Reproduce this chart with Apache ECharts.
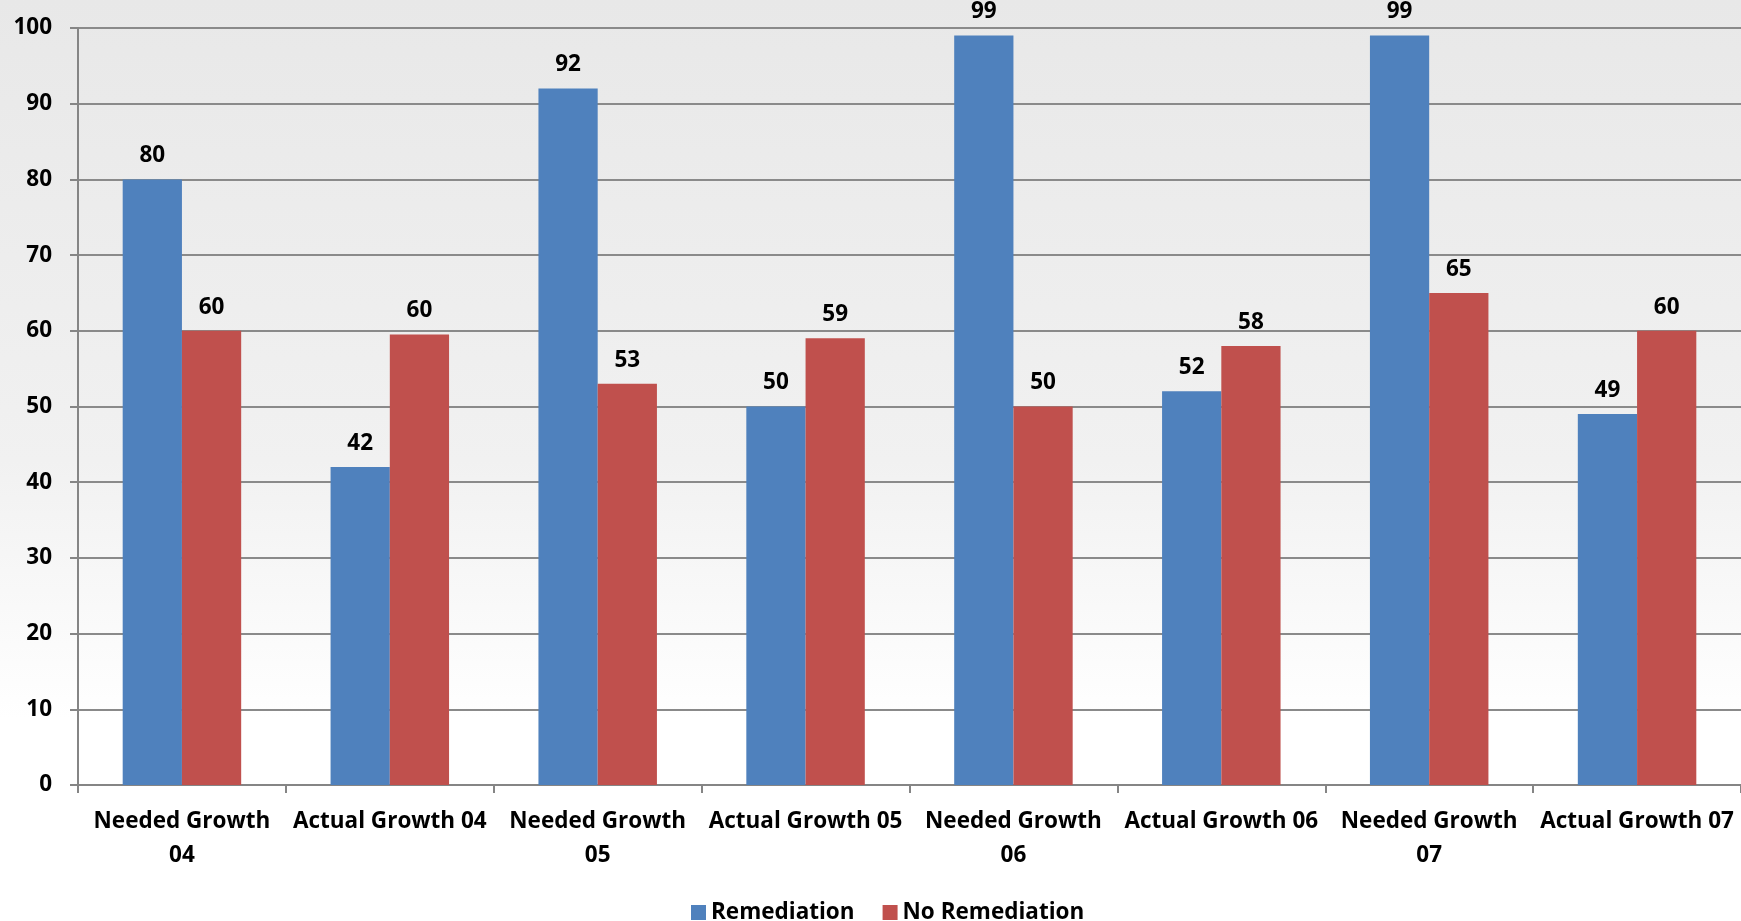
<!DOCTYPE html>
<html>
<head>
<meta charset="utf-8">
<script src="https://cdn.jsdelivr.net/npm/echarts@6/dist/echarts.min.js"></script>
<style>
html,body{margin:0;padding:0;background:#fff;}
#chart{width:1741px;height:921px;}
</style>
</head>
<body>
<div id="chart"></div>
<script>
const categories = ['Needed Growth 04','Actual Growth 04','Needed Growth 05','Actual Growth 05','Needed Growth 06','Actual Growth 06','Needed Growth 07','Actual Growth 07'];
const remediation = [80, 42, 92, 50, 99, 52, 99, 49];
const noRemediation = [60, 59.5, 53, 59, 50, 58, 65, 60];
const yTicks = [0, 10, 20, 30, 40, 50, 60, 70, 80, 90, 100];

const FONT = '"Open Sans"';
const chart = echarts.init(document.getElementById('chart'));
const textStyle = {fontFamily: FONT, fontWeight: 'bold', fontSize: 22.5, color: '#000'};

chart.setOption({
  backgroundColor: {
    type: 'linear', x: 0, y: 0, x2: 0, y2: 1,
    colorStops: [
      {offset: 0, color: '#e8e8e8'},
      {offset: 0.5, color: '#f1f1f1'},
      {offset: 0.78, color: '#ffffff'},
      {offset: 1, color: '#ffffff'}
    ]
  },
  animation: false,
  grid: {left: 78, right: 0, top: 28, bottom: 136, containLabel: false},
  legend: {
    left: 686, top: 896,
    itemWidth: 15, itemHeight: 15, itemGap: 28,
    icon: 'rect',
    textStyle: Object.assign({}, textStyle),
    data: ['Remediation', 'No Remediation']
  },
  xAxis: {
    type: 'category',
    data: categories,
    axisLine: {lineStyle: {color: '#858585', width: 2}},
    axisTick: {show: true, length: 8, alignWithLabel: false, lineStyle: {color: '#858585', width: 2}},
    axisLabel: Object.assign({}, textStyle, {
      interval: 0, margin: 20, lineHeight: 34,
      formatter: v => v.startsWith('Needed') ? v.replace(/ (\d+)$/, '\n$1') : v
    })
  },
  yAxis: {
    type: 'value', min: yTicks[0], max: yTicks[yTicks.length - 1], interval: 10,
    axisLine: {show: true, lineStyle: {color: '#858585', width: 2}},
    axisTick: {show: true, length: 8, lineStyle: {color: '#858585', width: 2}},
    splitLine: {lineStyle: {color: '#8a8a8a', width: 2}},
    axisLabel: Object.assign({}, textStyle, {margin: 26})
  },
  series: [
    {
      name: 'Remediation', type: 'bar', data: remediation,
      barGap: '0%', barCategoryGap: '43%',
      itemStyle: {color: '#4F81BD'},
      label: Object.assign({}, textStyle, {show: true, position: 'top', distance: 12, formatter: p => Math.round(p.value)})
    },
    {
      name: 'No Remediation', type: 'bar', data: noRemediation,
      barGap: '0%', barCategoryGap: '43%',
      itemStyle: {color: '#C0504D'},
      label: Object.assign({}, textStyle, {show: true, position: 'top', distance: 12, formatter: p => Math.round(p.value)})
    }
  ]
});
</script>
</body>
</html>
